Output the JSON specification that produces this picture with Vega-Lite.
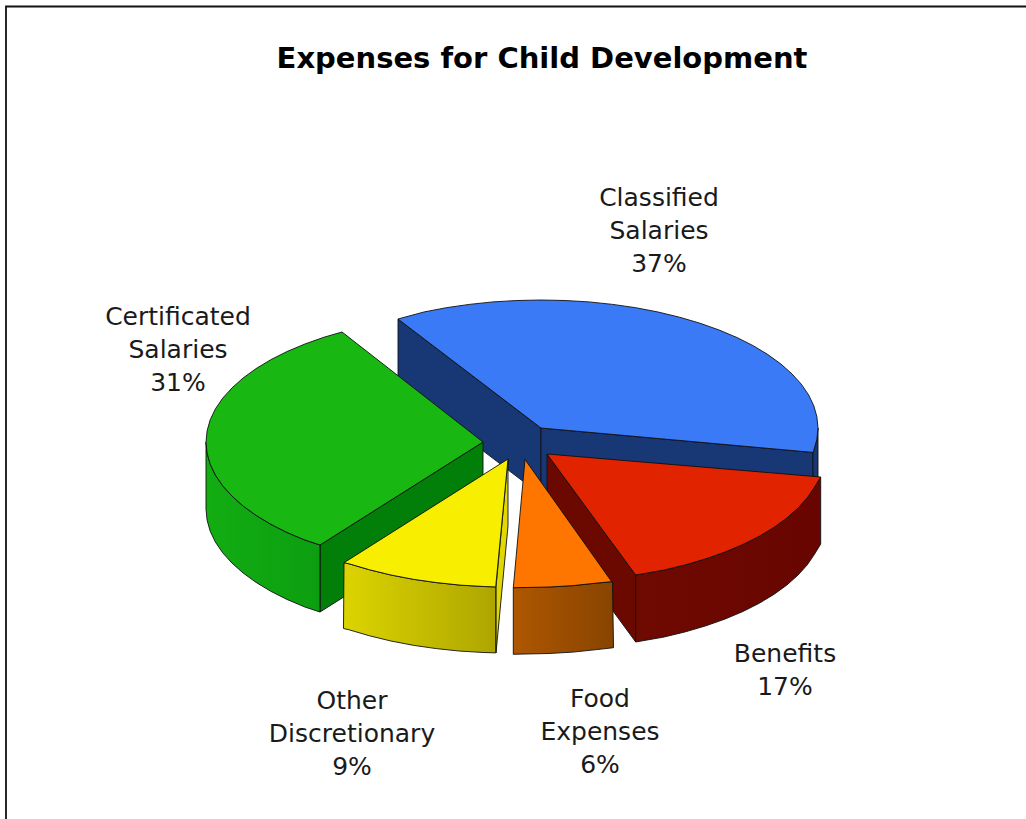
{
"$schema":"https://vega.github.io/schema/vega-lite/v6.json",
"width":1026,"height":819,"padding":0,"autosize":{"type":"none"},"background":"white",
"title":{"text":"Expenses for Child Development","font":"DejaVu Sans","fontSize":29,"fontWeight":"bold","color":"#000000","anchor":"middle","dx":29,"offset":-97,"baseline":"alphabetic"},
"config":{"view":{"stroke":null}},
"datasets":{
"faces":[
{"face":"blue wall inner","seq":1,"x":398,"y":319},{"face":"blue wall inner","seq":2,"x":541,"y":428},{"face":"blue wall inner","seq":3,"x":541,"y":495},{"face":"blue wall inner","seq":4,"x":398,"y":386},{"face":"blue wall inner","seq":5,"x":398,"y":319},
{"face":"blue wall front","seq":1,"x":541,"y":428},{"face":"blue wall front","seq":2,"x":813,"y":452.4},{"face":"blue wall front","seq":3,"x":813,"y":519.4},{"face":"blue wall front","seq":4,"x":541,"y":495},{"face":"blue wall front","seq":5,"x":541,"y":428},
{"face":"blue rim","seq":1,"x":818,"y":428},{"face":"blue rim","seq":2,"x":816.9,"y":439.2},{"face":"blue rim","seq":3,"x":813.8,"y":450.2},{"face":"blue rim","seq":4,"x":813,"y":452.4},{"face":"blue rim","seq":5,"x":813,"y":519},{"face":"blue rim","seq":6,"x":818,"y":495},{"face":"blue rim","seq":7,"x":818,"y":428},
{"face":"blue top","seq":1,"x":541,"y":428},{"face":"blue top","seq":2,"x":398,"y":319},{"face":"blue top","seq":3,"x":423.9,"y":312},{"face":"blue top","seq":4,"x":446.3,"y":307.7},{"face":"blue top","seq":5,"x":469.3,"y":304.4},{"face":"blue top","seq":6,"x":492.9,"y":301.9},{"face":"blue top","seq":7,"x":516.9,"y":300.5},{"face":"blue top","seq":8,"x":541,"y":300},{"face":"blue top","seq":9,"x":565.1,"y":300.5},{"face":"blue top","seq":10,"x":589.1,"y":301.9},{"face":"blue top","seq":11,"x":612.7,"y":304.4},{"face":"blue top","seq":12,"x":635.7,"y":307.7},{"face":"blue top","seq":13,"x":658.1,"y":312},{"face":"blue top","seq":14,"x":679.5,"y":317.2},{"face":"blue top","seq":15,"x":699.9,"y":323.2},{"face":"blue top","seq":16,"x":719.1,"y":330},{"face":"blue top","seq":17,"x":736.9,"y":337.5},{"face":"blue top","seq":18,"x":753.2,"y":345.7},{"face":"blue top","seq":19,"x":767.9,"y":354.6},{"face":"blue top","seq":20,"x":780.9,"y":364},{"face":"blue top","seq":21,"x":792,"y":373.9},{"face":"blue top","seq":22,"x":801.3,"y":384.2},{"face":"blue top","seq":23,"x":808.6,"y":394.9},{"face":"blue top","seq":24,"x":813.8,"y":405.8},{"face":"blue top","seq":25,"x":816.9,"y":416.8},{"face":"blue top","seq":26,"x":818,"y":428},{"face":"blue top","seq":27,"x":816.9,"y":439.2},{"face":"blue top","seq":28,"x":813.8,"y":450.2},{"face":"blue top","seq":29,"x":813,"y":452.4},{"face":"blue top","seq":30,"x":541,"y":428},
{"face":"green wall","seq":1,"x":483,"y":442},{"face":"green wall","seq":2,"x":320,"y":545},{"face":"green wall","seq":3,"x":320,"y":612},{"face":"green wall","seq":4,"x":483,"y":509},{"face":"green wall","seq":5,"x":483,"y":442},
{"face":"green side","seq":1,"x":320,"y":545},{"face":"green side","seq":2,"x":304.9,"y":540},{"face":"green side","seq":3,"x":287.1,"y":532.5},{"face":"green side","seq":4,"x":270.8,"y":524.3},{"face":"green side","seq":5,"x":256.1,"y":515.4},{"face":"green side","seq":6,"x":243.1,"y":506},{"face":"green side","seq":7,"x":232,"y":496.1},{"face":"green side","seq":8,"x":222.7,"y":485.8},{"face":"green side","seq":9,"x":215.4,"y":475.1},{"face":"green side","seq":10,"x":210.2,"y":464.2},{"face":"green side","seq":11,"x":207.1,"y":453.2},{"face":"green side","seq":12,"x":206,"y":442},{"face":"green side","seq":13,"x":206,"y":509},{"face":"green side","seq":14,"x":207.1,"y":520.2},{"face":"green side","seq":15,"x":210.2,"y":531.2},{"face":"green side","seq":16,"x":215.4,"y":542.1},{"face":"green side","seq":17,"x":222.7,"y":552.8},{"face":"green side","seq":18,"x":232,"y":563.1},{"face":"green side","seq":19,"x":243.1,"y":573},{"face":"green side","seq":20,"x":256.1,"y":582.4},{"face":"green side","seq":21,"x":270.8,"y":591.3},{"face":"green side","seq":22,"x":287.1,"y":599.5},{"face":"green side","seq":23,"x":304.9,"y":607},{"face":"green side","seq":24,"x":320,"y":612},{"face":"green side","seq":25,"x":320,"y":545},
{"face":"green top","seq":1,"x":483,"y":442},{"face":"green top","seq":2,"x":320,"y":545},{"face":"green top","seq":3,"x":304.9,"y":540},{"face":"green top","seq":4,"x":287.1,"y":532.5},{"face":"green top","seq":5,"x":270.8,"y":524.3},{"face":"green top","seq":6,"x":256.1,"y":515.4},{"face":"green top","seq":7,"x":243.1,"y":506},{"face":"green top","seq":8,"x":232,"y":496.1},{"face":"green top","seq":9,"x":222.7,"y":485.8},{"face":"green top","seq":10,"x":215.4,"y":475.1},{"face":"green top","seq":11,"x":210.2,"y":464.2},{"face":"green top","seq":12,"x":207.1,"y":453.2},{"face":"green top","seq":13,"x":206,"y":442},{"face":"green top","seq":14,"x":207.1,"y":430.8},{"face":"green top","seq":15,"x":210.2,"y":419.8},{"face":"green top","seq":16,"x":215.4,"y":408.9},{"face":"green top","seq":17,"x":222.7,"y":398.2},{"face":"green top","seq":18,"x":232,"y":387.9},{"face":"green top","seq":19,"x":243.1,"y":378},{"face":"green top","seq":20,"x":256.1,"y":368.6},{"face":"green top","seq":21,"x":270.8,"y":359.7},{"face":"green top","seq":22,"x":287.1,"y":351.5},{"face":"green top","seq":23,"x":304.9,"y":344},{"face":"green top","seq":24,"x":324.1,"y":337.2},{"face":"green top","seq":25,"x":342,"y":332},{"face":"green top","seq":26,"x":483,"y":442},
{"face":"red wall","seq":1,"x":547,"y":454},{"face":"red wall","seq":2,"x":635.7,"y":575},{"face":"red wall","seq":3,"x":635.7,"y":642},{"face":"red wall","seq":4,"x":547,"y":521},{"face":"red wall","seq":5,"x":547,"y":454},
{"face":"red side","seq":1,"x":635.7,"y":575},{"face":"red side","seq":2,"x":664.1,"y":570},{"face":"red side","seq":3,"x":685.5,"y":564.8},{"face":"red side","seq":4,"x":705.9,"y":558.8},{"face":"red side","seq":5,"x":725.1,"y":552},{"face":"red side","seq":6,"x":742.9,"y":544.5},{"face":"red side","seq":7,"x":759.2,"y":536.3},{"face":"red side","seq":8,"x":773.9,"y":527.4},{"face":"red side","seq":9,"x":786.9,"y":518},{"face":"red side","seq":10,"x":798,"y":508.1},{"face":"red side","seq":11,"x":807.3,"y":497.8},{"face":"red side","seq":12,"x":814.6,"y":487.1},{"face":"red side","seq":13,"x":820.7,"y":477},{"face":"red side","seq":14,"x":820.7,"y":544},{"face":"red side","seq":15,"x":814.6,"y":554.1},{"face":"red side","seq":16,"x":807.3,"y":564.8},{"face":"red side","seq":17,"x":798,"y":575.1},{"face":"red side","seq":18,"x":786.9,"y":585},{"face":"red side","seq":19,"x":773.9,"y":594.4},{"face":"red side","seq":20,"x":759.2,"y":603.3},{"face":"red side","seq":21,"x":742.9,"y":611.5},{"face":"red side","seq":22,"x":725.1,"y":619},{"face":"red side","seq":23,"x":705.9,"y":625.8},{"face":"red side","seq":24,"x":685.5,"y":631.8},{"face":"red side","seq":25,"x":664.1,"y":637},{"face":"red side","seq":26,"x":635.7,"y":642},{"face":"red side","seq":27,"x":635.7,"y":575},
{"face":"red top","seq":1,"x":547,"y":454},{"face":"red top","seq":2,"x":635.7,"y":575},{"face":"red top","seq":3,"x":664.1,"y":570},{"face":"red top","seq":4,"x":685.5,"y":564.8},{"face":"red top","seq":5,"x":705.9,"y":558.8},{"face":"red top","seq":6,"x":725.1,"y":552},{"face":"red top","seq":7,"x":742.9,"y":544.5},{"face":"red top","seq":8,"x":759.2,"y":536.3},{"face":"red top","seq":9,"x":773.9,"y":527.4},{"face":"red top","seq":10,"x":786.9,"y":518},{"face":"red top","seq":11,"x":798,"y":508.1},{"face":"red top","seq":12,"x":807.3,"y":497.8},{"face":"red top","seq":13,"x":814.6,"y":487.1},{"face":"red top","seq":14,"x":820.7,"y":477},{"face":"red top","seq":15,"x":547,"y":454},
{"face":"orange side","seq":1,"x":513.3,"y":587.7},{"face":"orange side","seq":2,"x":525,"y":587.5},{"face":"orange side","seq":3,"x":549.1,"y":587},{"face":"orange side","seq":4,"x":573.1,"y":585.6},{"face":"orange side","seq":5,"x":596.7,"y":583.1},{"face":"orange side","seq":6,"x":612.5,"y":581.7},{"face":"orange side","seq":7,"x":613.5,"y":647.7},{"face":"orange side","seq":8,"x":596.7,"y":649.6},{"face":"orange side","seq":9,"x":573.1,"y":652.1},{"face":"orange side","seq":10,"x":549.1,"y":653.5},{"face":"orange side","seq":11,"x":525,"y":654},{"face":"orange side","seq":12,"x":513.3,"y":654.3},{"face":"orange side","seq":13,"x":513.3,"y":587.7},
{"face":"orange top","seq":1,"x":525,"y":459.5},{"face":"orange top","seq":2,"x":513.3,"y":587.7},{"face":"orange top","seq":3,"x":525,"y":587.5},{"face":"orange top","seq":4,"x":549.1,"y":587},{"face":"orange top","seq":5,"x":573.1,"y":585.6},{"face":"orange top","seq":6,"x":596.7,"y":583.1},{"face":"orange top","seq":7,"x":611.7,"y":581.7},{"face":"orange top","seq":8,"x":525,"y":459.5},
{"face":"yellow wall","seq":1,"x":508,"y":459},{"face":"yellow wall","seq":2,"x":508,"y":526},{"face":"yellow wall","seq":3,"x":496,"y":653},{"face":"yellow wall","seq":4,"x":496,"y":587},{"face":"yellow wall","seq":5,"x":508,"y":459},
{"face":"yellow side","seq":1,"x":344,"y":562.7},{"face":"yellow side","seq":2,"x":349.1,"y":563.8},{"face":"yellow side","seq":3,"x":369.5,"y":569.8},{"face":"yellow side","seq":4,"x":390.9,"y":575},{"face":"yellow side","seq":5,"x":413.3,"y":579.3},{"face":"yellow side","seq":6,"x":436.3,"y":582.6},{"face":"yellow side","seq":7,"x":459.9,"y":585.1},{"face":"yellow side","seq":8,"x":483.9,"y":586.5},{"face":"yellow side","seq":9,"x":495.7,"y":586.9},{"face":"yellow side","seq":10,"x":495.7,"y":652.9},{"face":"yellow side","seq":11,"x":483.9,"y":652.5},{"face":"yellow side","seq":12,"x":459.9,"y":651.1},{"face":"yellow side","seq":13,"x":436.3,"y":648.6},{"face":"yellow side","seq":14,"x":413.3,"y":645.3},{"face":"yellow side","seq":15,"x":390.9,"y":641},{"face":"yellow side","seq":16,"x":369.5,"y":635.8},{"face":"yellow side","seq":17,"x":349.1,"y":629.8},{"face":"yellow side","seq":18,"x":343.5,"y":628.5},{"face":"yellow side","seq":19,"x":344,"y":562.7},
{"face":"yellow top","seq":1,"x":508,"y":459},{"face":"yellow top","seq":2,"x":344,"y":562.7},{"face":"yellow top","seq":3,"x":349.1,"y":563.8},{"face":"yellow top","seq":4,"x":369.5,"y":569.8},{"face":"yellow top","seq":5,"x":390.9,"y":575},{"face":"yellow top","seq":6,"x":413.3,"y":579.3},{"face":"yellow top","seq":7,"x":436.3,"y":582.6},{"face":"yellow top","seq":8,"x":459.9,"y":585.1},{"face":"yellow top","seq":9,"x":483.9,"y":586.5},{"face":"yellow top","seq":10,"x":495.7,"y":586.9},{"face":"yellow top","seq":11,"x":508,"y":459}
],
"frame":[{"seq":1,"x":1026,"y":6.5},{"seq":2,"x":6,"y":6.5},{"seq":3,"x":6,"y":819}],
"labels":[
{"label":"Classified\nSalaries\n37%","x":659,"y":198},
{"label":"Certificated\nSalaries\n31%","x":178,"y":317},
{"label":"Benefits\n17%","x":785,"y":654},
{"label":"Food\nExpenses\n6%","x":600,"y":699},
{"label":"Other\nDiscretionary\n9%","x":352,"y":701}
]},
"encoding":{
 "x":{"field":"x","type":"quantitative","scale":{"domain":[0,1026],"nice":false,"zero":false},"axis":null},
 "y":{"field":"y","type":"quantitative","scale":{"domain":[819,0],"nice":false,"zero":false},"axis":null}
},
"layer":[
{"data":{"name":"frame"},"mark":{"type":"line","stroke":"#111111","strokeWidth":1.8},"encoding":{"order":{"field":"seq"}}},
{"data":{"name":"faces"},"transform":[{"filter":{"field":"face","oneOf":["blue wall inner","blue wall front","blue rim","blue top","green wall"]}}],
 "mark":{"type":"line","stroke":"#101010","strokeWidth":0.9,"strokeJoin":"round"},
 "encoding":{"order":{"field":"seq"},"fill":{"field":"face","type":"nominal","legend":null,"scale":{"domain":["blue wall inner","blue wall front","blue rim","blue top","green wall","green top","red wall","red top","orange top","yellow wall","yellow top"],"range":["#183775","#183775","#183775","#3a7af7","#027f09","#18b712","#6b0800","#e22300","#fe7600","#e0d800","#f7ee00"]}}}},
{"data":{"name":"faces"},"transform":[{"filter":{"field":"face","equal":"green side"}}],
 "mark":{"type":"line","stroke":"#101010","strokeWidth":0.9,"strokeJoin":"round","fill":{"gradient":"linear","x1":0,"y1":0,"x2":1,"y2":0,"stops":[{"offset":0,"color":"#12ad12"},{"offset":1,"color":"#0c9e10"}]}},
 "encoding":{"order":{"field":"seq"}}},
{"data":{"name":"faces"},"transform":[{"filter":{"field":"face","oneOf":["green top","red wall"]}}],
 "mark":{"type":"line","stroke":"#101010","strokeWidth":0.9,"strokeJoin":"round"},
 "encoding":{"order":{"field":"seq"},"fill":{"field":"face","type":"nominal","legend":null}}},
{"data":{"name":"faces"},"transform":[{"filter":{"field":"face","equal":"red side"}}],
 "mark":{"type":"line","stroke":"#101010","strokeWidth":0.9,"strokeJoin":"round","fill":{"gradient":"linear","x1":0,"y1":0,"x2":1,"y2":0,"stops":[{"offset":0,"color":"#6e0a00"},{"offset":1,"color":"#680500"}]}},
 "encoding":{"order":{"field":"seq"}}},
{"data":{"name":"faces"},"transform":[{"filter":{"field":"face","equal":"red top"}}],
 "mark":{"type":"line","stroke":"#101010","strokeWidth":0.9,"strokeJoin":"round"},
 "encoding":{"order":{"field":"seq"},"fill":{"field":"face","type":"nominal","legend":null}}},
{"data":{"name":"faces"},"transform":[{"filter":{"field":"face","equal":"orange side"}}],
 "mark":{"type":"line","stroke":"#101010","strokeWidth":0.9,"strokeJoin":"round","fill":{"gradient":"linear","x1":0,"y1":0,"x2":1,"y2":0,"stops":[{"offset":0,"color":"#ae5700"},{"offset":1,"color":"#884400"}]}},
 "encoding":{"order":{"field":"seq"}}},
{"data":{"name":"faces"},"transform":[{"filter":{"field":"face","oneOf":["orange top","yellow wall"]}}],
 "mark":{"type":"line","stroke":"#101010","strokeWidth":0.9,"strokeJoin":"round"},
 "encoding":{"order":{"field":"seq"},"fill":{"field":"face","type":"nominal","legend":null}}},
{"data":{"name":"faces"},"transform":[{"filter":{"field":"face","equal":"yellow side"}}],
 "mark":{"type":"line","stroke":"#101010","strokeWidth":0.9,"strokeJoin":"round","fill":{"gradient":"linear","x1":0,"y1":0,"x2":1,"y2":0,"stops":[{"offset":0,"color":"#dcd400"},{"offset":1,"color":"#aea600"}]}},
 "encoding":{"order":{"field":"seq"}}},
{"data":{"name":"faces"},"transform":[{"filter":{"field":"face","equal":"yellow top"}}],
 "mark":{"type":"line","stroke":"#101010","strokeWidth":0.9,"strokeJoin":"round"},
 "encoding":{"order":{"field":"seq"},"fill":{"field":"face","type":"nominal","legend":null}}},
{"data":{"name":"labels"},"mark":{"type":"text","font":"DejaVu Sans","fontSize":25,"lineHeight":33,"color":"#1a1a1a","align":"center","baseline":"middle","lineBreak":"\n"},
 "encoding":{"text":{"field":"label"}}}
]}
